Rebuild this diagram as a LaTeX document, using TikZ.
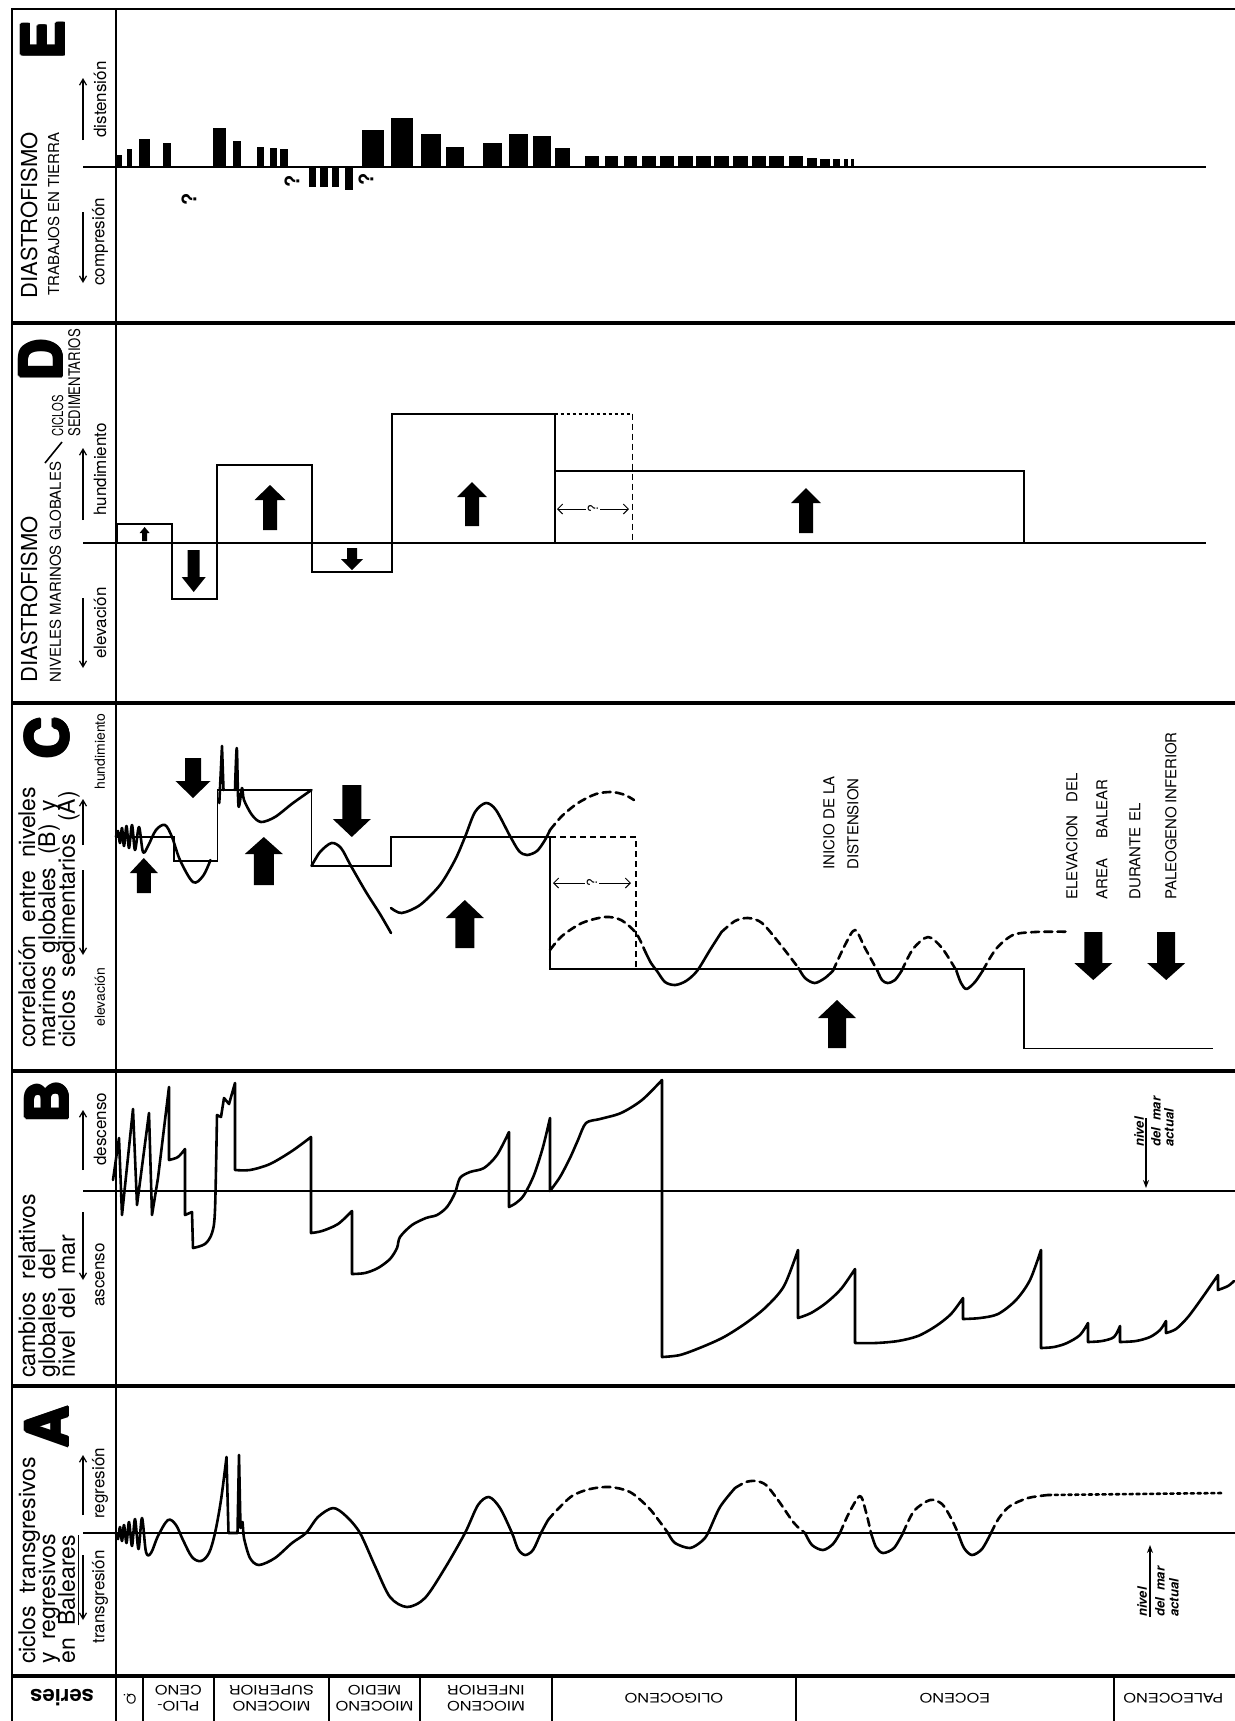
\documentclass[tikz,border=0pt]{standalone}
\usepackage{fontspec}
\setmainfont{TeX Gyre Heros}
\usepackage{graphicx}
\usetikzlibrary{arrows.meta}
\newcommand\BlkUp[6]{\fill ({#1},{#2}) -- ({#1+#4/2},{#2+#6}) -- ({#1+#5/2},{#2+#6}) -- ({#1+#5/2},{#3}) -- ({#1-#5/2},{#3}) -- ({#1-#5/2},{#2+#6}) -- ({#1-#4/2},{#2+#6}) -- cycle;}
\newcommand\BlkDn[6]{\fill ({#1},{#3}) -- ({#1+#4/2},{#3-#6}) -- ({#1+#5/2},{#3-#6}) -- ({#1+#5/2},{#2}) -- ({#1-#5/2},{#2}) -- ({#1-#5/2},{#3-#6}) -- ({#1-#4/2},{#3-#6}) -- cycle;}
\newcommand\HeavyLetter[4]{%
  \foreach \dx/\dy in {-1.3/0,1.3/0,0/-1.3,0/1.3,-0.9/-0.9,0.9/0.9,-0.9/0.9,0.9/-0.9}
    {\node[letter] at ({#2+\dx},{#3+\dy}) {#4};}
  \node[letter] (#1) at (#2,#3) {#4};}
\newcommand\Widen[1]{\scalebox{1.25}[1]{#1}}
\newcommand\WideSpaces{\spaceskip=0.55em\relax}
\begin{document}
\begin{tikzpicture}[x=0.5pt,y=-0.5pt,
  frame/.style={line width=1.3pt},
  sepl/.style={line width=1.6pt},
  axisl/.style={line width=1pt},
  crv/.style={line width=1.3pt,line join=round,line cap=round},
  dcrv/.style={crv,dash pattern=on 4pt off 2.6pt},
  dotcrv/.style={crv,dash pattern=on 1.6pt off 1.8pt},
  stepl/.style={line width=0.9pt},
  rectl/.style={line width=1pt},
  vlab/.style={rotate=90,anchor=west,inner sep=0pt},
  vbase/.style={rotate=90,anchor=base west,inner sep=0pt},
  title/.style={vbase,font=\fontsize{11}{12}\selectfont},
  sub/.style={vbase,font=\fontsize{7.5}{8}\selectfont},
  dir/.style={vlab,font=\fontsize{8.5}{9}\selectfont},
  bigl/.style={vbase,font=\fontsize{11.5}{12}\selectfont\WideSpaces},
  letter/.style={rotate=90,inner sep=0pt,font=\fontsize{29}{29}\bfseries},
  harp/.style={line width=0.6pt,-{Straight Barb[length=3pt,width=3.5pt]}},
  qm/.style={rotate=90,inner sep=0pt,font=\fontsize{10}{10}\bfseries},
  capt/.style={rotate=90,anchor=west,inner sep=0pt,font=\fontsize{7.5}{8}\selectfont},
  ser/.style={rotate=180,align=center,inner sep=0pt,font=\fontsize{6.5}{7.8}\selectfont},
  niv/.style={rotate=90,anchor=west,inner sep=0pt,font=\fontsize{6.5}{7}\bfseries\itshape}
]
\useasboundingbox (0,0) rectangle (1235,1721);
% ---------- frame ----------
\draw[frame] (1235,9) -- (12,9) -- (12,1721);
\draw[frame] (116,9) -- (116,1721);
\foreach \y in {323,703,1071,1386,1676} \draw[sepl] (12,\y) -- (1235,\y);
\foreach \x in {143,214,329,420,552,796,1114} \draw[frame] (\x,1676) -- (\x,1721);
% ---------- series row ----------
\node[rotate=180,font=\fontsize{11}{11}\bfseries] (sSeries) at (62,1698) {series};
\node[ser] (sQ) at (129.5,1699) {Q.};
\node[ser] (sPlio) at (178.5,1698) {\Widen{PLIO-}\\\Widen{CENO}};
\node[ser] (sSup) at (271.5,1698) {\Widen{MIOCENO}\\\Widen{SUPERIOR}};
\node[ser] (sMed) at (374.5,1698) {\Widen{MIOCENO}\\\Widen{MEDIO}};
\node[ser] (sInf) at (486,1698) {\Widen{MIOCENO}\\\Widen{INFERIOR}};
\node[ser] (sOli) at (674,1698) {\Widen{OLIGOCENO}};
\node[ser] (sEoc) at (955,1698) {\Widen{EOCENO}};
\node[ser] (sPal) at (1173.5,1698) {\Widen{PALEOCENO}};
% ---------- left column : E ----------
\HeavyLetter{lE}{43}{40}{E}
\node[title] (tE1) at (37,299) {DIASTROFISMO};
\node[sub] (tE2) at (59,296) {TRABAJOS EN TIERRA};
\node[dir] (tE3) at (100,286) {compresión};
\node[dir] (tE4) at (100,138) {distensión};
\draw[harp] (83,140) -- (83,78);
\draw[harp] (83,212) -- (83,283);
\draw[axisl] (83,167) -- (116,167);
% ---------- left column : D ----------
\HeavyLetter{lD}{41}{360}{D}
\node[title] (tD1) at (37,683) {DIASTROFISMO};
\node[sub] (tD2) at (61,683) {NIVELES MARINOS GLOBALES};
\draw[line width=0.8pt] (45,463) -- (62,442);
\node[vbase,font=\fontsize{7.5}{7.5}\selectfont] (tD3) at (63,437) {\scalebox{0.75}[1]{CICLOS}};
\node[vbase,font=\fontsize{8}{8}\selectfont] (tD4) at (80,437) {\scalebox{0.82}[1]{SEDIMENTARIOS}};
\node[dir] (tD5) at (100,516) {hundimiento};
\node[dir] (tD6) at (100,659) {elevación};
\draw[harp] (83,520) -- (83,448);
\draw[harp] (83,598) -- (83,668);
\draw[axisl] (83,543) -- (116,543);
% ---------- left column : C ----------
\HeavyLetter{lC}{47}{738}{C}
\node[bigl] (tC1) at (35,1048) {correlación entre niveles};
\node[bigl] (tC2) at (55,1048) {marinos globales (B) y};
\node[bigl] (tC3) at (75,1048) {ciclos sedimentarios (A)};
\node[vlab,font=\fontsize{7}{7}\selectfont] (tC4) at (100,790) {hundimiento};
\node[vlab,font=\fontsize{7}{7}\selectfont] (tC5) at (100,1027) {elevación};
\draw[harp] (83,845) -- (83,799);
\draw[harp] (83,870) -- (83,955);
% ---------- left column : B ----------
\HeavyLetter{lB}{47}{1102}{B}
\node[bigl] (tB1) at (35,1378) {cambios relativos};
\node[bigl] (tB2) at (55,1378) {globales del};
\node[bigl] (tB3) at (75,1378) {nivel del mar};
\node[dir] (tB4) at (100,1307) {ascenso};
\node[dir] (tB5) at (100,1166) {descenso};
\draw[harp] (83,1170) -- (83,1110);
\draw[harp] (83,1212) -- (83,1280);
\draw[axisl] (83,1191) -- (116,1191);
% ---------- left column : A ----------
\HeavyLetter{lA}{47}{1427}{A}
\node[bigl] (tA1) at (35,1664) {ciclos transgresivos};
\node[bigl] (tA2) at (55,1664) {y regresivos};
\node[bigl] (tA3) at (75,1664) {en \underline{Baleares}};
\node[dir] (tA4) at (100,1644) {transgresión};
\node[dir] (tA5) at (100,1519) {regresión};
\draw[harp] (83,1515) -- (83,1455);
\draw[harp] (83,1555) -- (83,1620);
\draw[axisl] (83,1533) -- (116,1533);
% ---------- panel E ----------
\draw[axisl] (116,167) -- (1206,167);
\foreach \a/\b/\h in {117/122.4/12, 126.5/132/18, 139.3/149.5/28, 162.8/170.9/24,
  213.3/225.5/39, 233.2/240.8/26, 257.1/264.3/20, 269.9/277/19, 280/287.8/17.7,
  309.2/316.3/-20, 320.4/327.6/-20, 332.1/338.8/-20, 345.4/353.1/-22.7,
  361.7/384.2/37.3, 390.8/413.3/49.3, 420.9/440.8/33.3, 445.9/463.8/20.3,
  483.2/501.5/24, 509.2/527.6/33.3, 532.7/551/31.3, 555.1/569.9/19.3,
  585.2/599/11.3, 605.1/617.9/11.3, 624/636.7/11.3, 642.3/656.1/11.3, 660.2/674/11.3,
  678/693.4/11.3, 695.9/710.7/11.3, 713.8/729.1/11.3, 732.7/748/11.3, 752/765.8/11.3,
  769.4/783.7/11.3, 788.8/803/11.3, 806.6/816.8/9, 820.4/829.6/8.5, 833.2/839.8/8.5,
  843.9/848/8, 851/854/8}
  \fill (\a,167) rectangle (\b,{167-\h});
\node[qm] (q1) at (292,181) {?};
\node[qm] (q2) at (366,179) {?};
\node[qm] (q3) at (189,199) {?};
% ---------- panel D ----------
\draw[axisl] (116,543) -- (1206,543);
\draw[rectl] (117,543) -- (117,524) -- (172,524) -- (172,599.3) -- (217.3,599.3) -- (217.3,465.3)
  -- (312.4,465.3) -- (312.4,572.3) -- (391.5,572.3) -- (391.5,413.7) -- (554.7,413.7) -- (554.7,543);
\draw[rectl] (554.7,471) -- (1024,471) -- (1024,543);
\draw[rectl,dash pattern=on 1.5pt off 1.5pt] (554.7,413.7) -- (632.5,413.7);
\draw[line width=0.8pt,dash pattern=on 3pt off 2pt] (632.5,413.7) -- (632.5,543);
\draw[line width=0.5pt,<->,>={Straight Barb[length=2.5pt]}] (557,509) -- (629,509);
\node[qm,fill=white,inner sep=1pt,font=\fontsize{7}{7}\selectfont] (qD) at (593,509) {?};
\BlkUp{144.6}{527}{541}{10}{5}{6}
\BlkDn{193.7}{550}{592}{24}{12}{15}
\BlkUp{270}{485}{530}{31}{14}{15}
\BlkDn{352}{548}{570}{22}{10}{11}
\BlkUp{472}{482}{526}{30}{14}{15}
\BlkUp{806}{488}{533}{30}{14}{15}
% ---------- panel C ----------
\draw[stepl] (116,837) -- (174,837) -- (174,861) -- (217.5,861) -- (217.5,790) -- (311.5,790)
  -- (311.5,866) -- (391,866) -- (391,837.3) -- (550,837.3) -- (550,969) -- (1024,969)
  -- (1024,1048.5) -- (1213,1048.5);
\draw[stepl,dash pattern=on 3pt off 2pt] (550,837.3) -- (636,837.3) -- (636,969);
\draw[line width=0.5pt,<->,>={Straight Barb[length=2.5pt]}] (553,883) -- (631,883);
\node[qm,fill=white,inner sep=1pt,font=\fontsize{7}{7}\selectfont] (qC) at (592,883) {?};
\draw[crv] plot[smooth,tension=0.55] coordinates {(116,837) (118,831) (120,843) (122,828) (124,846)
  (126.5,826) (129,848) (132,825) (135,850) (139,827) (143,852) (148,846) (156,830) (165,825)
  (172,837) (180,860) (193,882) (203,876) (210.5,860)};
\draw[crv] (219.3,803) -- (222,746) -- (223.5,790);
\draw[crv] plot[smooth,tension=0.5] coordinates {(235,790) (236.8,748) (238.5,806) (242,788)
  (244,800) (252,815) (261,822) (275,817) (293,803) (311.5,790)};
\draw[crv] plot[smooth] coordinates {(311.5,866) (320,852) (331.5,843) (341,848) (351,866)
  (366,892) (380,914) (391,933)};
\draw[crv] plot[smooth] coordinates {(391,908) (401.6,913) (420,905) (440,885) (455,860)
  (465,837) (475,812) (486,803) (496,810) (510,836) (519,851) (527,855) (537,851) (545,840) (550,830)};
\draw[dcrv] plot[smooth] coordinates {(550,830) (562,816) (578,803) (596,794) (612,792) (625,795) (634,800)};
\draw[dcrv] plot[smooth] coordinates {(550,950) (562,936) (582,923) (605,917) (621,920) (636,933) (644.5,950)};
\draw[crv] plot[smooth] coordinates {(644.5,950) (651,963) (657,971) (665,982) (675,985) (686,981)
  (697,971) (710,950) (721.5,932)};
\draw[dcrv] plot[smooth] coordinates {(721.5,932) (735,921) (748,918) (762,923) (780,944) (798.5,968)};
\draw[crv] plot[smooth] coordinates {(798.5,968) (805,978) (814.7,983) (825,978) (833,970.7)};
\draw[dcrv] plot[smooth] coordinates {(833,970.7) (845,945) (855,930) (865,948) (877.4,970.7)};
\draw[crv] plot[smooth] coordinates {(877.4,970.7) (882,980) (887.6,983) (895,980) (901.7,970.7)};
\draw[dcrv] plot[smooth] coordinates {(901.7,970.7) (913,949) (928,937) (942,948) (956.4,970.7)};
\draw[crv] plot[smooth] coordinates {(956.4,970.7) (961,983) (966.5,989) (975,982) (982.7,970.7)};
\draw[dcrv] plot[smooth] coordinates {(982.7,970.7) (996,949) (1013,935) (1035,932) (1066,931.7)};
\BlkUp{143.8}{858}{893}{28}{14}{15}
\BlkDn{193}{758}{798}{35}{16}{17}
\BlkUp{263.8}{837}{885}{38}{20}{17}
\BlkDn{351.8}{785}{837}{38}{19}{18}
\BlkUp{464.8}{900}{948}{38}{19}{18}
\BlkUp{837}{1000}{1048}{38}{18}{18}
\BlkDn{1093.3}{932}{980}{38}{18}{17}
\BlkDn{1166.2}{932}{980}{38}{18}{17}
\node[capt] (cIn1) at (829,870) {INICIO DE LA};
\node[capt] (cIn2) at (853,870) {DISTENSION};
\node[capt] (cEl1) at (1072,900) {\makebox[63pt][s]{ELEVACION DEL}};
\node[capt] (cEl2) at (1102,900) {\makebox[60pt][s]{AREA BALEAR}};
\node[capt] (cEl3) at (1135,900) {\makebox[48pt][s]{DURANTE EL}};
\node[capt] (cEl4) at (1171,900) {\makebox[83pt][s]{PALEOGENO INFERIOR}};
% ---------- panel B ----------
\draw[axisl] (116,1191) -- (1235,1191);
\draw[crv] plot coordinates {(113,1180) (119,1138) (122,1215) (133,1109) (137,1205) (149,1113)
  (152,1215) (158,1178) (169,1087)}
 -- plot[smooth] coordinates {(169,1160) (178,1157) (185,1149)}
 -- (185,1215) -- (192,1212)
 -- plot[smooth] coordinates {(193,1248) (205,1244) (212,1233) (215,1210) (217,1115)}
 -- (221,1117) -- (224,1098) -- (229,1104) -- (235,1083)
 -- plot[smooth] coordinates {(235,1170) (250,1170) (270,1164) (292,1151) (311,1137)}
 -- plot[smooth] coordinates {(311,1233) (322,1231) (338,1224) (352,1211)}
 -- plot[smooth] coordinates {(352,1274) (365,1273) (378,1268) (390,1259) (397,1248) (400,1237)
   (412,1225) (426,1218) (437,1215) (447,1207) (455,1193) (460,1178) (470,1172) (484,1168)
   (497,1155) (509,1132)}
 -- plot[smooth] coordinates {(509,1207) (516,1203) (524,1195) (534,1175) (543,1147) (550,1118)}
 -- plot[smooth] coordinates {(550,1191) (560,1177) (570,1158) (578,1140) (586,1123) (600,1119)
   (621,1113) (642,1100) (662,1080)}
 -- plot[smooth] coordinates {(662,1357) (680,1355) (702,1347) (724,1337) (746,1323) (766,1307)
   (784,1286) (798,1250)}
 -- plot[smooth] coordinates {(798,1318) (811,1313) (826,1303) (841,1289) (855,1269)}
 -- plot[smooth] coordinates {(855,1343) (876,1343) (898,1341) (918,1336) (936,1326) (951,1314) (963,1298)}
 -- plot[smooth] coordinates {(963,1319) (980,1318) (998,1314) (1016,1300) (1030,1280) (1041,1250)}
 -- plot[smooth] coordinates {(1041,1348) (1054,1347) (1067,1343) (1080,1335) (1088,1323)}
 -- plot[smooth] coordinates {(1088,1342) (1102,1341) (1114,1337) (1120,1326)}
 -- plot[smooth] coordinates {(1120,1342) (1136,1341) (1150,1337) (1160,1330) (1166,1321)}
 -- plot[smooth] coordinates {(1166,1333) (1176,1329) (1188,1317) (1202,1298) (1218,1275)}
 -- plot[smooth] coordinates {(1218,1290) (1228,1286) (1234,1281)};
\draw[line width=0.6pt,-{Stealth[length=4pt,width=3pt]}] (1146,1118) -- (1146,1188);
\node[niv] (nB1) at (1139,1147) {nivel};
\node[niv] (nB2) at (1156,1147) {del\ \ mar};
\node[niv] (nB3) at (1169,1147) {actual};
% ---------- panel A ----------
\draw[axisl] (116,1533) -- (1235,1533);
\draw[crv] plot[smooth,tension=0.55] coordinates {(116,1533) (118,1539) (120,1527) (122,1541)
  (124,1525) (126.5,1543) (129,1522) (132,1546) (135,1519) (138.5,1549) (142,1518) (146,1552)
  (151,1553) (158,1536) (168,1520) (176,1525) (183,1540) (192,1557) (201,1561) (209,1553)
  (215,1533) (221,1500) (226.5,1457)} -- (228.5,1533) -- (237.5,1533) -- (239,1455)
 -- plot[smooth] coordinates {(240.5,1528) (242.5,1522) (244,1538) (250,1558) (259,1565)
   (275,1558) (292,1543) (306,1533) (318,1517) (333,1508) (346,1516) (360,1533) (375,1566)
   (390,1597) (407,1607) (425,1598) (445,1568) (465,1533) (478,1505) (489,1497) (500,1508)
   (512,1533) (518,1549) (525,1555) (533,1550) (541,1533) (548,1520)};
\draw[dcrv] plot[smooth] coordinates {(548,1520) (556,1511) (572,1496) (590,1489) (610,1487)
  (630,1492) (648,1507) (660,1522) (668,1533)};
\draw[crv] plot[smooth] coordinates {(668,1533) (675,1543) (690,1548) (702,1541) (708,1533) (720,1507) (735,1488)};
\draw[dcrv] plot[smooth] coordinates {(735,1488) (746,1482) (756,1481) (766,1485) (778,1500) (794,1523) (805,1533)};
\draw[crv] plot[smooth] coordinates {(805,1533) (812,1545) (823,1550) (833,1544) (840,1533)};
\draw[dcrv] plot[smooth] coordinates {(840,1533) (849,1513) (860,1496) (866,1512) (871,1533)};
\draw[crv] plot[smooth] coordinates {(871,1533) (876,1547) (883,1553) (894,1548) (903,1533)};
\draw[dcrv] plot[smooth] coordinates {(903,1533) (914,1511) (930,1500) (942,1504) (951,1518) (958,1533)};
\draw[crv] plot[smooth] coordinates {(958,1533) (964,1548) (972,1555) (982,1549) (991,1533)};
\draw[dcrv] plot[smooth] coordinates {(991,1533) (999,1518) (1010,1506) (1028,1498) (1048,1495)};
\draw[dotcrv] (1048,1495) -- (1222,1493);
\draw[line width=0.6pt,-{Stealth[length=4pt,width=3pt]}] (1150,1617) -- (1150,1545);
\node[niv] (nA1) at (1142,1617) {nivel};
\node[niv] (nA2) at (1160,1617) {del\ \ mar};
\node[niv] (nA3) at (1174,1617) {actual};
\end{tikzpicture}
\end{document}
